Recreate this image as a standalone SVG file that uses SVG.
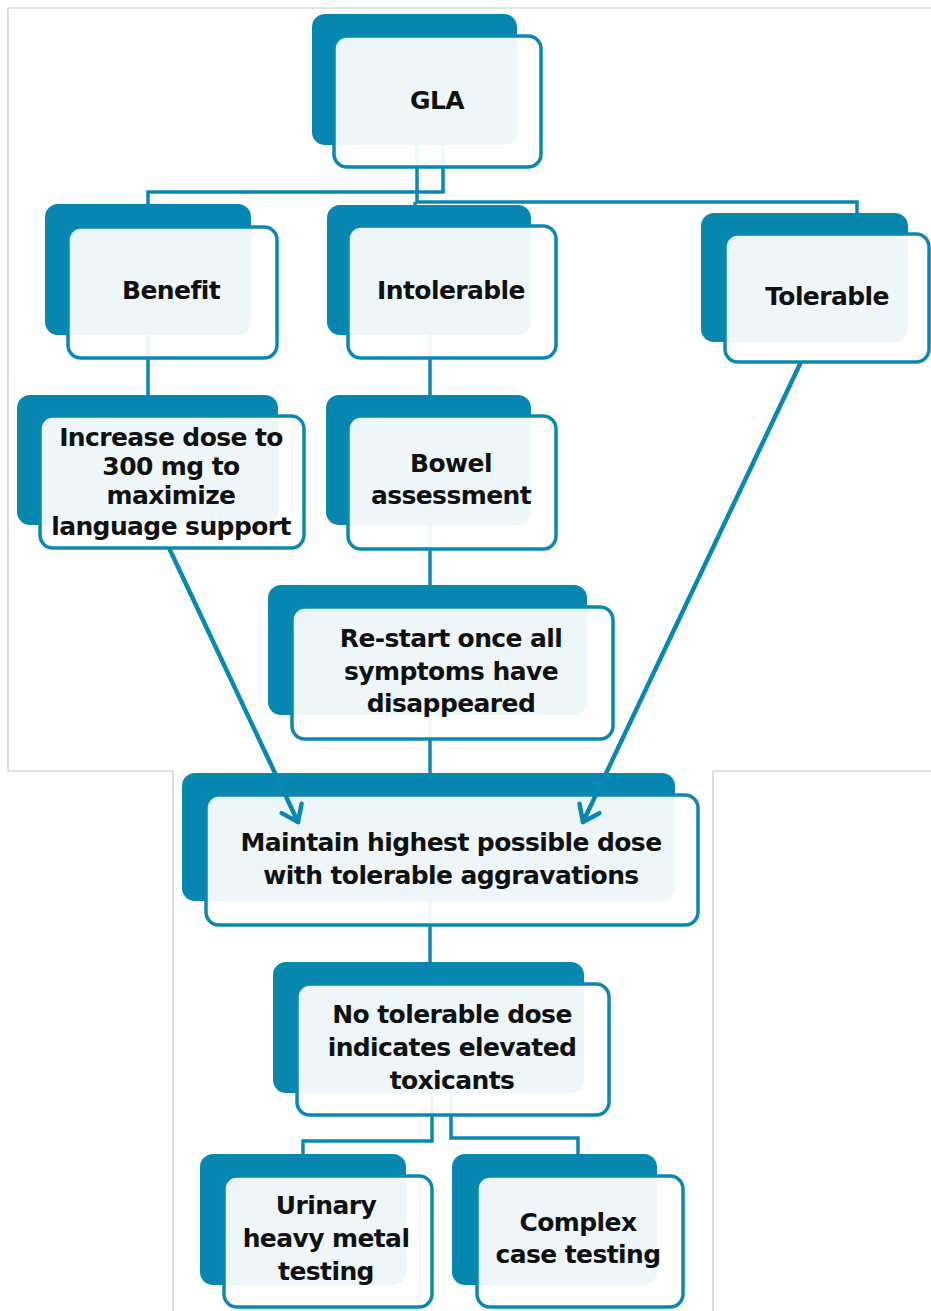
<svg xmlns="http://www.w3.org/2000/svg" width="931" height="1311" viewBox="0 0 931 1311">
<defs>
<style>
.bk{fill:#0787b0}
.fr{fill:#ffffff;fill-opacity:0.93;stroke:#0a88b1;stroke-width:3.5}
.ln{fill:none;stroke:#0a88b1;stroke-width:3.5}
.ar{fill:none;stroke:#0a88b1;stroke-width:4.5;stroke-linecap:round}
.frame{fill:none;stroke:#c6c6c6;stroke-width:1.2}
text{font-family:"DejaVu Sans","Open Sans","Liberation Sans",sans-serif;font-weight:700;font-size:25px;letter-spacing:-0.6px;fill:#111;text-anchor:middle}
</style>
<marker id="chev" markerUnits="userSpaceOnUse" markerWidth="24" markerHeight="28" viewBox="-18 -14 24 28" refX="0" refY="0" orient="auto">
<path d="M-15,-11 L0,0 L-15,11" fill="none" stroke="#0a88b1" stroke-width="4.5" stroke-linecap="round" stroke-linejoin="round"/>
</marker>
</defs>
<rect width="931" height="1311" fill="#ffffff"/>
<path class="frame" d="M931 8 H8 V771 H173 V1311 M713 1311 V771 H931"/>

<g id="connectors">
<path class="ln" d="M443 140 V192 H148 V210"/>
<path class="ln" d="M417 140 V202 H857 V218"/>
<path class="ln" d="M415 202 V210"/>
<path class="ln" d="M148 330 V400"/>
<path class="ln" d="M430 330 V400"/>
<path class="ln" d="M430 520 V590"/>
<path class="ln" d="M430 710 V778"/>
<path class="ln" d="M430 900 V967"/>
<path class="ln" d="M432 1090 V1141 H303 V1159"/>
<path class="ln" d="M451 1090 V1138 H578 V1159"/>
</g>

<g id="n-gla">
<rect class="bk" x="312" y="14" width="205" height="131" rx="13"/>
<rect class="fr" x="334" y="36" width="207" height="131" rx="13"/>
<text x="437" y="109">GLA</text>
</g>
<g id="n-benefit">
<rect class="bk" x="45" y="204" width="206" height="131" rx="13"/>
<rect class="fr" x="68" y="227" width="209" height="131" rx="13"/>
<text x="171" y="299">Benefit</text>
</g>
<g id="n-intolerable">
<rect class="bk" x="327" y="205" width="204" height="130" rx="13"/>
<rect class="fr" x="348" y="226" width="208" height="132" rx="13"/>
<text x="451" y="299">Intolerable</text>
</g>
<g id="n-tolerable">
<rect class="bk" x="701" y="213" width="207" height="129" rx="13"/>
<rect class="fr" x="725" y="234" width="204" height="128" rx="13"/>
<text x="827" y="305">Tolerable</text>
</g>
<g id="n-increase">
<rect class="bk" x="17" y="395" width="261" height="130" rx="13"/>
<rect class="fr" x="40" y="416" width="264" height="132" rx="13"/>
<text x="171" y="446">Increase dose to</text>
<text x="171" y="475">300 mg to</text>
<text x="171" y="504">maximize</text>
<text x="171" y="535">language support</text>
</g>
<g id="n-bowel">
<rect class="bk" x="326" y="395" width="205" height="130" rx="13"/>
<rect class="fr" x="348" y="416" width="208" height="133" rx="13"/>
<text x="451" y="472">Bowel</text>
<text x="451" y="504">assessment</text>
</g>
<g id="n-restart">
<rect class="bk" x="268" y="585" width="319" height="130" rx="13"/>
<rect class="fr" x="292" y="607" width="321" height="132" rx="13"/>
<text x="451" y="647">Re-start once all</text>
<text x="451" y="680">symptoms have</text>
<text x="451" y="712">disappeared</text>
</g>
<g id="n-maintain">
<rect class="bk" x="182" y="773" width="493" height="128" rx="13"/>
<rect class="fr" x="206" y="795" width="492" height="130" rx="13"/>
<text x="451" y="851">Maintain highest possible dose</text>
<text x="451" y="884">with tolerable aggravations</text>
</g>
<g id="n-notolerable">
<rect class="bk" x="273" y="962" width="311" height="131" rx="13"/>
<rect class="fr" x="297" y="984" width="312" height="131" rx="13"/>
<text x="452" y="1023">No tolerable dose</text>
<text x="452" y="1056">indicates elevated</text>
<text x="452" y="1089">toxicants</text>
</g>
<g id="n-urinary">
<rect class="bk" x="200" y="1154" width="206" height="131" rx="13"/>
<rect class="fr" x="224" y="1176" width="208" height="131" rx="13"/>
<text x="326" y="1214">Urinary</text>
<text x="326" y="1247">heavy metal</text>
<text x="326" y="1280">testing</text>
</g>
<g id="n-complex">
<rect class="bk" x="452" y="1154" width="205" height="131" rx="13"/>
<rect class="fr" x="477" y="1176" width="206" height="131" rx="13"/>
<text x="578" y="1231">Complex</text>
<text x="578" y="1263">case testing</text>
</g>

<g id="arrows">
<line class="ar" x1="170" y1="550" x2="298" y2="822" marker-end="url(#chev)"/>
<line class="ar" x1="800" y1="364" x2="583" y2="822" marker-end="url(#chev)"/>
</g>
</svg>
